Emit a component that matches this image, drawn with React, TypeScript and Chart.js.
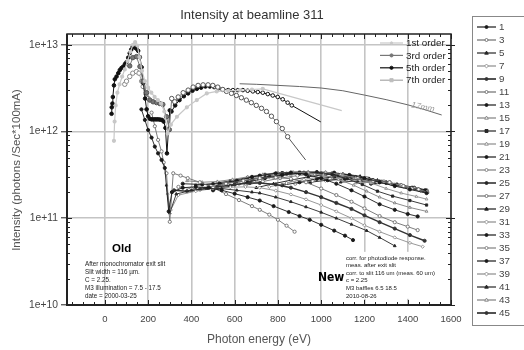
import React, { useEffect, useRef } from 'react';
import { Chart, registerables } from 'chart.js';

Chart.register(...registerables);

type P = [number, number];

const TITLE = 'Intensity at beamline 311';
const X_TITLE = 'Photon energy (eV)';
const Y_TITLE = 'Intensity (photons /Sec*100mA)';
const X_TICKS = [0, 200, 400, 600, 800, 1000, 1200, 1400, 1600];
const Y_TICKS = [1e10, 1e11, 1e12, 1e13];
const Y_TICK_LABELS = ['1e+10', '1e+11', '1e+12', '1e+13'];
const ORDER_LABELS = ['1st order', '3rd order', '5th order', '7th order'];
const HARMONIC_LABELS = ['1', '3', '5', '7', '9', '11', '13', '15', '17', '19', '21', '23', '25', '27', '29', '31', '33', '35', '37', '39', '41', '43', '45'];
const OLD_NOTE = ['After monochromator exit slit', 'Slit width = 116 \u00b5m.', 'C = 2.25.', 'M3 illumination = 7.5 - 17.5', 'date = 2000-03-25'];
const NEW_NOTE = ['corr. for photodiode response.', 'meas. after exit slit', 'corr. to slit 116 um (meas. 60 um)', 'c = 2.25', 'M3 baffles 6.5 18.5', '2010-08-26'];

// ---- old measurement (orders) ----
const order1: P[] = [[42,7.8e11],[45,1.3e12],[50,2.0e12],[58,2.8e12],[68,3.5e12],[80,4.3e12],[92,5.2e12],[105,6.5e12],[118,8.3e12],[130,1.0e13],[140,1.07e13],[150,9.8e12],[160,7.2e12],[172,5.0e12],[185,3.8e12],[200,3.2e12],[215,2.8e12],[230,2.5e12],[245,2.3e12],[260,2.1e12],[275,1.7e12],[290,9.5e11],[305,1.2e12],[333,1.48e12],[379,1.9e12],[425,2.3e12],[471,2.75e12],[517,2.9e12],[570,2.95e12],[624,3.0e12],[680,3.05e12],[730,3.1e12]];
const order1Ext: P[] = [[730,3.1e12],[1095,1.74e12]];
const order3: P[] = [[115,5.7e12],[129,7.1e12],[146,7.3e12],[162,5.6e12],[176,3.8e12],[193,2.8e12],[208,2.3e12],[223,2.2e12],[239,2.15e12],[254,2.1e12],[268,2.05e12],[285,1.48e12],[298,1.05e12],[309,2.4e12],[323,2.2e12],[339,2.5e12],[362,2.8e12],[385,3.0e12],[408,3.25e12],[431,3.4e12],[454,3.45e12],[477,3.45e12],[499,3.4e12],[522,3.25e12],[545,3.05e12],[562,2.9e12],[585,2.75e12],[608,2.6e12],[631,2.45e12],[654,2.3e12],[677,2.15e12],[700,2.0e12],[724,1.85e12],[747,1.7e12],[770,1.5e12],[793,1.3e12],[820,1.08e12],[845,8.7e11]];
const order3Ext: P[] = [[845,8.7e11],[928,4.7e11]];
const order5: P[] = [[31,1.6e12],[32,1.9e12],[35,2.1e12],[37,2.5e12],[42,3.4e12],[46,4.0e12],[54,4.3e12],[62,4.7e12],[69,5.1e12],[77,5.4e12],[85,5.6e12],[93,6.0e12],[100,6.3e12],[108,7.1e12],[115,8.0e12],[122,8.8e12],[129,9.5e12],[139,9.3e12],[146,9.0e12],[154,8.5e12],[162,7.2e12],[170,5.5e12],[178,3.6e12],[186,2.4e12],[193,1.8e12],[200,1.5e12],[208,1.4e12],[216,1.38e12],[224,1.38e12],[232,1.38e12],[240,1.38e12],[248,1.38e12],[256,1.37e12],[264,1.36e12],[272,1.3e12],[280,1.1e12],[287,5.6e11],[300,1.75e12],[308,1.7e12],[325,2.0e12],[345,2.3e12],[365,2.55e12],[385,2.75e12],[405,2.95e12],[425,3.1e12],[445,3.2e12],[465,3.3e12],[485,3.3e12],[505,3.25e12],[525,3.15e12],[545,3.05e12],[570,3.0e12],[592,3.0e12],[615,3.0e12],[638,3.0e12],[660,2.95e12],[684,2.9e12],[707,2.85e12],[730,2.8e12],[753,2.7e12],[776,2.6e12],[799,2.5e12],[822,2.35e12],[845,2.15e12],[864,2.0e12]];
const order5Ext: P[] = [[864,2.0e12],[998,1.29e12]];
const order7: P[] = [[92,3.5e12],[100,3.8e12],[115,4.3e12],[129,4.7e12],[146,4.9e12],[158,4.7e12],[170,3.8e12],[177,3.3e12],[189,2.75e12],[200,2.4e12]];
const curve17mm: P[] = [[623,3.55e12],[700,3.5e12],[800,3.4e12],[900,3.3e12],[1000,3.17e12],[1100,2.95e12],[1200,2.63e12],[1300,2.33e12],[1400,2.03e12],[1480,1.78e12],[1557,1.55e12]];

// ---- new measurement (harmonics) ----
const h1: P[] = [[169,1.8e12],[185,1.36e12],[200,1.04e12],[216,8.5e11],[231,6.7e11],[246,5.6e11],[262,4.7e11],[277,3.8e11],[295,1.2e11],[310,2.0e11],[360,2.25e11],[420,2.3e11],[480,2.25e11],[540,2.1e11],[600,1.92e11],[660,1.75e11],[716,1.6e11],[780,1.38e11],[850,1.18e11],[900,1.06e11],[947,9.6e10],[1000,8.4e10],[1060,7.2e10],[1110,6.3e10],[1147,5.6e10]];
const h3: P[] = [[216,1.65e12],[231,1.15e12],[246,8.0e11],[262,5.9e11],[272,4.4e11],[285,3.3e11],[300,9.1e10],[316,3.3e11],[350,3.1e11],[383,2.9e11],[439,2.6e11],[500,2.25e11],[560,1.9e11],[620,1.62e11],[680,1.38e11],[716,1.25e11],[760,1.1e11],[800,9.6e10],[840,8.2e10],[877,7.0e10]];
const h5: P[] = [[285,2.4e11],[300,1.15e11],[330,1.9e11],[400,2.1e11],[470,2.2e11],[540,2.2e11],[610,2.1e11],[680,2.0e11],[716,1.95e11],[790,1.75e11],[860,1.55e11],[930,1.35e11],[1000,1.17e11],[1070,1.0e11],[1140,8.5e10],[1210,7.2e10],[1270,6.0e10],[1340,4.8e10]];
const h7: P[] = [[290,1.9e11],[305,1.25e11],[340,1.85e11],[420,2.05e11],[500,2.2e11],[580,2.28e11],[650,2.3e11],[716,2.25e11],[790,2.08e11],[860,1.88e11],[930,1.65e11],[1000,1.42e11],[1070,1.2e11],[1140,1.0e11],[1200,8.3e10],[1270,7.0e10],[1340,6.0e10],[1410,5.2e10],[1469,4.7e10]];
const h9: P[] = [[320,2.1e11],[380,2.05e11],[440,2.15e11],[520,2.3e11],[600,2.45e11],[670,2.55e11],[716,2.55e11],[790,2.45e11],[860,2.25e11],[930,2.0e11],[1000,1.75e11],[1070,1.5e11],[1140,1.28e11],[1200,1.08e11],[1270,9.0e10],[1340,7.6e10],[1410,6.4e10],[1478,5.5e10]];
const h11: P[] = [[340,2.3e11],[400,2.2e11],[480,2.3e11],[560,2.5e11],[640,2.7e11],[716,2.9e11],[790,2.95e11],[860,2.85e11],[930,2.6e11],[1000,2.2e11],[1070,1.85e11],[1140,1.55e11],[1200,1.3e11],[1270,1.06e11],[1340,9.0e10],[1400,8.0e10],[1446,7.3e10]];
const h13: P[] = [[360,2.5e11],[450,2.45e11],[530,2.5e11],[610,2.7e11],[680,3.0e11],[716,3.1e11],[790,3.3e11],[860,3.35e11],[930,3.2e11],[1000,2.9e11],[1070,2.5e11],[1140,2.1e11],[1200,1.78e11],[1270,1.45e11],[1340,1.25e11],[1400,1.12e11],[1446,1.05e11]];
const h15: P[] = [[380,2.7e11],[450,2.6e11],[520,2.65e11],[590,2.8e11],[660,3.0e11],[730,3.2e11],[800,3.35e11],[870,3.4e11],[940,3.35e11],[1010,3.15e11],[1080,2.8e11],[1150,2.4e11],[1210,2.05e11],[1270,1.75e11],[1340,1.5e11],[1410,1.33e11],[1487,1.2e11]];
const h17: P[] = [[420,2.4e11],[500,2.5e11],[580,2.7e11],[660,2.95e11],[740,3.2e11],[820,3.35e11],[900,3.4e11],[980,3.4e11],[1050,3.2e11],[1120,2.85e11],[1190,2.45e11],[1260,2.05e11],[1330,1.8e11],[1410,1.6e11],[1487,1.42e11]];
const h19: P[] = [[460,2.2e11],[540,2.45e11],[620,2.7e11],[700,3.0e11],[780,3.25e11],[860,3.4e11],[940,3.45e11],[1020,3.4e11],[1090,3.2e11],[1160,2.9e11],[1230,2.55e11],[1300,2.2e11],[1370,1.95e11],[1440,1.78e11],[1487,1.66e11]];
const h21: P[] = [[500,2.1e11],[580,2.35e11],[660,2.6e11],[740,2.9e11],[820,3.15e11],[900,3.3e11],[980,3.4e11],[1060,3.35e11],[1130,3.15e11],[1200,2.9e11],[1270,2.6e11],[1340,2.35e11],[1410,2.15e11],[1487,1.95e11]];
const h23: P[] = [[540,2.3e11],[620,2.5e11],[700,2.75e11],[780,3.0e11],[860,3.2e11],[940,3.35e11],[1020,3.35e11],[1100,3.2e11],[1170,2.95e11],[1240,2.7e11],[1316,2.6e11],[1380,2.35e11],[1418,2.2e11]];
const h25: P[] = [[600,2.6e11],[680,2.8e11],[760,3.05e11],[840,3.25e11],[920,3.35e11],[1000,3.3e11],[1080,3.15e11],[1160,2.95e11],[1240,2.75e11],[1316,2.6e11]];
const h27: P[] = [[650,2.4e11],[730,2.65e11],[810,2.9e11],[890,3.1e11],[970,3.25e11],[1050,3.3e11],[1130,3.15e11],[1210,2.9e11],[1290,2.65e11],[1370,2.4e11],[1450,2.15e11],[1490,2.0e11]];
const h29: P[] = [[700,2.25e11],[780,2.5e11],[860,2.75e11],[940,3.0e11],[1020,3.2e11],[1100,3.25e11],[1180,3.05e11],[1260,2.75e11],[1340,2.45e11],[1420,2.2e11],[1490,1.98e11]];
const h31: P[] = [[760,2.3e11],[840,2.55e11],[920,2.8e11],[1000,3.0e11],[1080,3.1e11],[1160,3.0e11],[1240,2.75e11],[1320,2.5e11],[1400,2.25e11],[1460,2.05e11]];
const h33: P[] = [[820,2.4e11],[900,2.6e11],[980,2.85e11],[1060,3.0e11],[1140,3.0e11],[1220,2.85e11],[1300,2.6e11],[1380,2.35e11],[1450,2.15e11]];
const h35: P[] = [[880,2.5e11],[960,2.7e11],[1040,2.9e11],[1120,2.95e11],[1200,2.85e11],[1280,2.65e11],[1360,2.4e11],[1430,2.2e11],[1490,2.0e11]];
const h37: P[] = [[950,2.6e11],[1030,2.75e11],[1110,2.85e11],[1190,2.8e11],[1270,2.65e11],[1350,2.45e11],[1420,2.25e11],[1480,2.1e11]];
const h39: P[] = [[1020,2.7e11],[1100,2.8e11],[1180,2.75e11],[1260,2.6e11],[1340,2.4e11],[1410,2.2e11],[1470,2.05e11]];
const h41: P[] = [[1090,2.6e11],[1170,2.7e11],[1250,2.6e11],[1330,2.45e11],[1400,2.25e11],[1460,2.1e11]];
const h43: P[] = [[1160,2.55e11],[1240,2.6e11],[1320,2.5e11],[1390,2.3e11],[1450,2.15e11],[1490,2.05e11]];
const h45: P[] = [[1230,2.5e11],[1300,2.55e11],[1370,2.4e11],[1430,2.25e11],[1487,2.1e11]];

const HARMONICS: P[][] = [h1,h3,h5,h7,h9,h11,h13,h15,h17,h19,h21,h23,h25,h27,h29,h31,h33,h35,h37,h39,h41,h43,h45];

// ---- styles ----
const H_LINE = ['#1a1a1a','#6e6e6e','#262626','#8c8c8c','#333333','#6e6e6e','#1a1a1a','#808080','#262626','#8c8c8c','#1a1a1a','#808080','#262626','#6e6e6e','#1a1a1a','#8c8c8c','#1a1a1a','#808080','#1a1a1a','#8c8c8c','#262626','#808080','#333333'];
const H_STYLE = ['circle','circle','triangle','rectRot','circle','circle','circle','triangle','rect','triangle','circle','circle','circle','circle','triangle','rectRot','circle','circle','circle','rectRot','triangle','triangle','circle'];
const H_WIDTH = [0.9,0.9,0.9,0.9,1.4,0.9,0.9,0.9,0.9,0.9,0.9,0.9,1.2,0.9,0.9,0.9,0.9,0.9,0.9,0.9,0.9,0.9,1.4];
const ORDER_COLOR = ['#c8c8c8', '#777777', '#111111', '#a8a8a8'];
const ORDER_POINT = ['#c8c8c8', '#777777', '#111111', '#bdbdbd'];
const ORDER_RADIUS = [1.5, 2.2, 1.8, 2.2];

const FONT = "'Liberation Sans', Arial, sans-serif";

function hFill(i: number) { return i % 2 === 0 ? H_LINE[i] : '#ffffff'; }

function drawMarker(ctx: CanvasRenderingContext2D, style: string, x: number, y: number, r: number, fill: string, stroke: string) {
  ctx.beginPath();
  if (style === 'rect') ctx.rect(x - r, y - r, 2 * r, 2 * r);
  else if (style === 'rectRot') { ctx.moveTo(x, y - r * 1.3); ctx.lineTo(x + r * 1.3, y); ctx.lineTo(x, y + r * 1.3); ctx.lineTo(x - r * 1.3, y); ctx.closePath(); }
  else if (style === 'triangle') { ctx.moveTo(x, y - r * 1.3); ctx.lineTo(x + r * 1.2, y + r * 0.8); ctx.lineTo(x - r * 1.2, y + r * 0.8); ctx.closePath(); }
  else ctx.arc(x, y, r, 0, Math.PI * 2);
  ctx.fillStyle = fill; ctx.fill();
  ctx.strokeStyle = stroke; ctx.lineWidth = 0.9; ctx.stroke();
}

const overlay = {
  id: 'overlay',
  afterDatasetsDraw(chart: any) {
    const ctx: CanvasRenderingContext2D = chart.ctx;
    const xs = chart.scales.x, ys = chart.scales.y;
    ctx.save();
    const bx = xs.getPixelForValue(1105), by = ys.getPixelForValue(4.1e10);
    ctx.fillStyle = '#fff';
    ctx.fillRect(bx, by, 94, 47);
    ctx.restore();
  },
  afterDraw(chart: any) {
    const ctx: CanvasRenderingContext2D = chart.ctx;
    const { left, right, top, bottom } = chart.chartArea;
    const xs = chart.scales.x, ys = chart.scales.y;
    ctx.save();
    // minor ticks
    ctx.strokeStyle = '#222'; ctx.lineWidth = 1;
    ctx.beginPath();
    for (let v = -150; v <= 1600; v += 50) {
      const px = Math.round(xs.getPixelForValue(v)) + 0.5;
      const len = v % 200 === 0 ? 5 : 3;
      ctx.moveTo(px, bottom); ctx.lineTo(px, bottom - len);
      ctx.moveTo(px, top); ctx.lineTo(px, top + len);
    }
    for (let d = 10; d <= 13; d++) {
      for (let k = 1; k <= 9; k++) {
        const v = k * Math.pow(10, d);
        if (v > ys.max) continue;
        const py = Math.round(ys.getPixelForValue(v)) + 0.5;
        const len = k === 1 ? 5 : 3;
        ctx.moveTo(left, py); ctx.lineTo(left + len, py);
        ctx.moveTo(right, py); ctx.lineTo(right - len, py);
        if (k === 1) { ctx.moveTo(right, py); ctx.lineTo(right + 4, py); }
      }
    }
    ctx.stroke();
    // frame
    ctx.strokeStyle = '#222'; ctx.lineWidth = 1.5;
    ctx.strokeRect(left, top, right - left, bottom - top);
    ctx.lineWidth = 2;
    ctx.beginPath(); ctx.moveTo(left, top); ctx.lineTo(left, bottom); ctx.lineTo(right, bottom); ctx.stroke();

    // title & axis titles
    ctx.fillStyle = '#333';
    ctx.font = `13px ${FONT}`; ctx.textAlign = 'center'; ctx.textBaseline = 'middle';
    ctx.fillText(TITLE, 252, 15);
    ctx.fillStyle = '#555';
    ctx.font = `12px ${FONT}`;
    ctx.fillText(X_TITLE, 259, 340);
    ctx.save();
    ctx.translate(17, 170); ctx.rotate(-Math.PI / 2);
    ctx.font = `11.5px ${FONT}`;
    ctx.fillText(Y_TITLE, 0, 0);
    ctx.restore();

    // 17mm label
    ctx.save();
    ctx.translate(xs.getPixelForValue(1470), ys.getPixelForValue(1.9e12));
    ctx.rotate(0.2);
    ctx.fillStyle = '#999'; ctx.font = `italic 8.5px ${FONT}`;
    ctx.fillText('17mm', 0, 0);
    ctx.restore();

    // inner legend (orders)
    ctx.textAlign = 'left'; ctx.textBaseline = 'middle';
    ctx.font = `9.8px ${FONT}`;
    for (let i = 0; i < ORDER_LABELS.length; i++) {
      const y = 43 + i * 12.4;
      ctx.strokeStyle = ORDER_COLOR[i]; ctx.lineWidth = 1.2;
      ctx.beginPath(); ctx.moveTo(380, y); ctx.lineTo(403, y); ctx.stroke();
      drawMarker(ctx, i === 3 ? 'rect' : 'circle', 391.5, y, i === 0 ? 1.2 : 1.6, ORDER_POINT[i], ORDER_POINT[i]);
      ctx.fillStyle = '#222';
      ctx.fillText(ORDER_LABELS[i], 406, y + 0.5);
    }

    // right legend (harmonics)
    ctx.strokeStyle = '#888'; ctx.lineWidth = 1;
    ctx.strokeRect(472.5, 16.5, 70, 309);
    ctx.font = `9.8px ${FONT}`;
    for (let i = 0; i < HARMONIC_LABELS.length; i++) {
      const y = 27 + i * 13;
      ctx.strokeStyle = H_LINE[i]; ctx.lineWidth = H_WIDTH[i] + 0.3;
      ctx.beginPath(); ctx.moveTo(477, y); ctx.lineTo(496, y); ctx.stroke();
      drawMarker(ctx, H_STYLE[i], 486.5, y, 1.5, hFill(i), H_LINE[i]);
      ctx.fillStyle = '#444';
      ctx.fillText(HARMONIC_LABELS[i], 499, y + 0.5);
    }

    // annotations
    ctx.fillStyle = '#000';
    ctx.font = `bold 11.5px ${FONT}`;
    ctx.fillText('Old', 112, 249);
    ctx.font = `6.3px ${FONT}`; ctx.fillStyle = '#222';
    OLD_NOTE.forEach((t, i) => ctx.fillText(t, 85, 264 + i * 8));
    ctx.fillStyle = '#000';
    ctx.font = `bold 12px 'DejaVu Sans Condensed', 'Liberation Sans Narrow', sans-serif`;
    ctx.fillText('New', 318, 278);
    ctx.font = `6px ${FONT}`; ctx.fillStyle = '#222';
    NEW_NOTE.forEach((t, i) => ctx.fillText(t, 346, 258 + i * 7.6));
    ctx.restore();
  },
};

function toXY(d: P[]) { return d.map(([x, y]) => ({ x, y })); }

export default function App() {
  const ref = useRef<HTMLCanvasElement>(null);
  useEffect(() => {
    if (!ref.current) return;
    const openAfter = (threshold: number, fill: string) => (c: any) => (c.raw && c.raw.x > threshold ? '#ffffff' : fill);
    const datasets: any[] = [
      { data: toXY(order1), borderColor: ORDER_COLOR[0], pointBackgroundColor: ORDER_POINT[0], pointBorderColor: ORDER_POINT[0], pointRadius: ORDER_RADIUS[0], borderWidth: 1.2 },
      { data: toXY(order1Ext), borderColor: ORDER_COLOR[0], pointRadius: 0, borderWidth: 1.2 },
      { data: toXY(order3), borderColor: ORDER_COLOR[1], pointBackgroundColor: openAfter(305, ORDER_POINT[1]), pointBorderColor: '#555', pointRadius: ORDER_RADIUS[1], borderWidth: 1 },
      { data: toXY(order3Ext), borderColor: '#555', pointRadius: 0, borderWidth: 1 },
      { data: toXY(order5), borderColor: ORDER_COLOR[2], pointBackgroundColor: openAfter(500, ORDER_POINT[2]), pointBorderColor: '#111', pointRadius: ORDER_RADIUS[2], borderWidth: 1 },
      { data: toXY(order5Ext), borderColor: '#111', pointRadius: 0, borderWidth: 1 },
      { data: toXY(order7), borderColor: ORDER_COLOR[3], pointBackgroundColor: '#fff', pointBorderColor: '#888', pointRadius: ORDER_RADIUS[3], borderWidth: 1 },
      { data: toXY(curve17mm), borderColor: '#666', pointRadius: 0, borderWidth: 1 },
      ...HARMONICS.map((d, i) => ({
        data: toXY(d),
        borderColor: H_LINE[i],
        borderWidth: H_WIDTH[i],
        pointStyle: H_STYLE[i],
        pointRadius: 1.6,
        pointBackgroundColor: hFill(i),
        pointBorderColor: H_LINE[i],
        pointBorderWidth: 0.9,
      })),
    ];
    const chart = new Chart(ref.current, {
      type: 'line',
      data: { datasets },
      plugins: [overlay],
      options: {
        animation: false,
        responsive: false,
        events: [],
        layout: { padding: { left: 0, top: 34, right: 73, bottom: 0 } },
        elements: { line: { tension: 0 } },
        plugins: { legend: { display: false }, tooltip: { enabled: false }, title: { display: false } },
        scales: {
          x: {
            type: 'linear',
            min: -175,
            max: 1600,
            afterBuildTicks: (s: any) => { s.ticks = X_TICKS.map((v) => ({ value: v })); },
            afterFit: (s: any) => { s.height = 45; },
            grid: { color: '#c4c4c4', lineWidth: 1.6, drawTicks: false },
            border: { display: false },
            ticks: { padding: 9, color: '#444', font: { size: 9.5, family: FONT }, maxRotation: 0, callback: (v: any) => String(v) },
          },
          y: {
            type: 'logarithmic',
            min: 1e10,
            max: 1.33e13,
            afterBuildTicks: (s: any) => { s.ticks = Y_TICKS.map((v) => ({ value: v })); },
            afterFit: (s: any) => { s.width = 67; },
            grid: { color: '#c4c4c4', lineWidth: 1.6, drawTicks: true, tickLength: 6, tickColor: '#222', tickWidth: 1 },
            border: { display: false },
            ticks: { padding: 3, color: '#444', font: { size: 10.3, family: FONT }, callback: (v: any) => { const i = Y_TICKS.indexOf(v); return i >= 0 ? Y_TICK_LABELS[i] : ''; } },
          },
        },
      } as any,
    });
    return () => chart.destroy();
  }, []);
  return (
    <div style={{ position: 'absolute', left: 0, top: 0, width: 524, height: 350, background: '#fff' }}>
      <canvas ref={ref} width={524} height={350} />
    </div>
  );
}
